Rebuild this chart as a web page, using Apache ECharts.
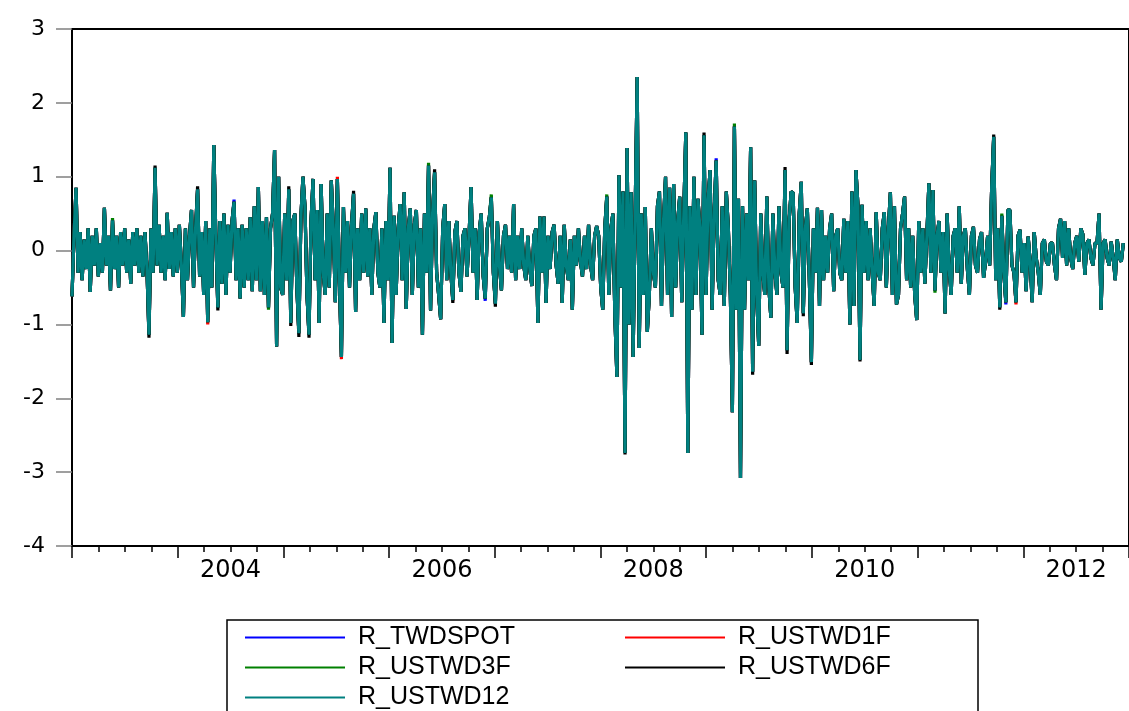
<!DOCTYPE html>
<html><head><meta charset="utf-8">
<script src="https://cdn.jsdelivr.net/npm/echarts@6/dist/echarts.min.js"></script>
<style>html,body{margin:0;padding:0;background:#fff}#c{width:1129px;height:711px}</style>
</head><body><div id="c"></div>
<script>
// Weekly returns (teal series R_USTWD12 is drawn on top of the others)
const v2003=[-0.62,0.2,0.85,-0.3,0.25,-0.4,0.15,-0.25,0.3,-0.56,0.2,-0.2,0.3,-0.35,0.1,-0.3,0.58,-0.2,0.2,-0.54,0.41,-0.25,0.2,-0.5,0.25,-0.2,0.3,-0.3,0.15,-0.45,0.25,-0.2,0.3,-0.3,0.2,-0.35,0.25,-0.25,-1.14,0.3,-0.3,1.12,-0.2,0.35,-0.3,0.2,-0.4,0.51,-0.25,0.25,-0.35,0.3];
const v2004=[-0.3,0.35,-0.2,-0.9,0.3,-0.4,0.2,0.55,-0.5,0.3,0.83,-0.35,0.25,-0.6,0.4,-0.97,0.3,-0.5,1.43,0.2,-0.77,0.4,-0.45,0.5,-0.6,0.35,-0.3,0.4,0.66,-0.4,0.3,-0.65,0.35,-0.5,0.3,-0.4,0.45,-0.55,0.6,-0.4,0.86,-0.55,0.4,-0.6,0.45,-0.77,0.3,0.5,1.36,-1.3,1.0,-0.5];
const v2005=[-0.6,0.5,-0.4,0.83,-0.98,0.4,0.5,-0.5,-1.12,0.45,1.0,0.6,-0.6,-1.14,0.4,0.97,-0.4,0.55,-0.98,0.9,-0.3,-0.6,0.5,-0.5,0.95,0.3,-0.7,0.97,-0.4,-1.44,0.59,-0.3,0.4,-0.5,0.35,0.77,-0.83,0.3,-0.4,0.5,-0.3,0.57,-0.35,0.3,-0.6,0.3,0.52,-0.3,-0.5,0.3,-0.98,0.4];
const v2006=[-0.4,1.12,-1.25,0.47,-0.6,0.3,0.63,-0.4,0.79,-0.79,0.3,0.57,-0.6,0.35,0.55,-0.5,0.3,-1.14,0.5,-0.3,1.15,-0.81,0.5,1.06,-0.3,-0.6,-0.93,0.3,0.63,-0.4,0.4,-0.3,-0.67,0.25,0.4,-0.3,-0.56,0.2,0.3,-0.35,0.2,0.86,-0.3,0.3,-0.67,0.25,0.5,-0.35,-0.65,0.3,0.45,0.72];
const v2007=[-0.3,-0.72,0.4,-0.2,-0.54,0.2,0.35,-0.25,0.2,-0.3,0.63,-0.4,0.2,-0.25,0.3,-0.2,-0.4,0.2,-0.25,-0.48,0.2,0.3,-0.98,0.46,-0.3,0.46,-0.71,0.2,-0.25,0.25,0.35,-0.2,-0.45,0.2,-0.71,0.35,-0.2,-0.4,0.15,-0.8,0.2,-0.2,0.3,-0.15,-0.35,0.2,-0.25,0.35,-0.2,-0.4,0.2,0.33];
const v2008=[0.2,-0.5,-0.8,0.3,0.73,-0.6,0.3,0.5,-0.9,-1.71,1.02,-0.5,0.8,-2.74,1.39,-1.0,0.79,-1.44,0.5,2.35,-1.32,0.5,-0.6,0.59,-1.1,-0.6,0.3,-0.3,-0.5,0.6,0.8,-0.75,0.4,1.0,-0.6,0.85,-0.9,0.9,-0.5,0.4,0.73,-0.7,0.5,1.6,-2.74,0.6,-0.8,1.0,-0.6,0.7,0.3,-1.14];
const v2009=[1.56,-0.6,0.7,1.09,-0.8,0.5,1.22,-0.4,-0.6,0.6,-0.75,0.8,0.3,-0.6,-2.19,1.68,-0.8,0.7,-3.08,0.6,-0.8,0.5,-0.4,1.4,-1.64,0.95,-0.6,-1.29,0.5,-0.3,-0.6,0.73,-0.5,-0.91,0.5,-0.3,-0.6,0.6,-0.3,-0.5,1.09,-1.35,0.4,0.8,0.78,-0.5,-0.98,0.5,0.93,-0.85,0.3,0.57];
const v2010=[-0.4,-1.51,0.3,-0.3,0.58,-0.75,0.55,-0.4,0.2,-0.3,0.3,0.5,-0.55,0.2,0.3,-0.3,-0.4,0.43,-0.3,0.4,-1.0,0.8,-0.75,1.09,0.6,-1.48,0.62,-0.3,0.4,-0.4,0.3,-0.3,-0.75,0.52,-0.3,-0.4,0.3,0.52,-0.5,0.3,0.79,-0.6,0.6,-0.73,-0.6,0.3,0.5,0.73,-0.4,0.3,-0.5,0.2];
const v2011=[-0.6,-0.94,0.4,-0.3,0.3,-0.45,0.2,0.91,-0.3,0.82,-0.54,0.2,0.4,-0.3,0.25,-0.85,0.5,-0.25,-0.6,0.2,0.3,-0.3,0.6,-0.45,0.2,0.3,-0.25,-0.6,0.2,0.32,-0.2,-0.3,0.15,0.25,-0.37,-0.15,0.2,-0.2,0.86,1.54,-0.4,0.3,-0.77,0.47,-0.3,-0.7,0.55,0.55,-0.2,-0.3,-0.7,0.2];
const v2012=[0.28,-0.3,0.1,-0.55,0.19,-0.15,-0.7,0.25,-0.1,-0.3,-0.6,0.1,0.15,-0.15,-0.2,0.1,0.1,-0.2,-0.4,0.3,0.43,-0.1,0.4,-0.2,0.3,-0.1,-0.25,0.1,0.2,-0.15,0.3,0.22,-0.33,0.1,0.15,-0.1,-0.2,0.1,0.1,0.5,-0.8,0.1,0.15,-0.1,-0.2,0.12,-0.1,-0.4,0.15,-0.1,-0.15,0.1];

// Series R_USTWD12 (teal)
const R_USTWD12=[].concat(v2003,v2004,v2005,v2006,v2007,v2008,v2009,v2010,v2011,v2012);
// The other four series coincide with it except where their tips show: [week index, value]
const R_USTWD6F_tips=[[38,-1.18],[41,1.15],[62,0.87],[72,-0.81],[107,0.87],[108,-1.02],[112,-1.17],[117,-1.18],[139,0.81],[179,1.1],[188,-0.71],[209,-0.76],[273,-2.76],[312,1.6],[336,-1.68],[352,1.13],[353,-1.4],[365,-1.55],[389,-1.5],[455,1.57],[458,-0.8],[361,-0.89]];
const R_USTWD3F_tips=[[176,1.19],[207,0.76],[327,1.72],[97,-0.8],[20,0.44],[264,0.76],[459,0.5],[426,-0.57]];
const R_USTWD1F_tips=[[133,-1.47],[131,1.0],[67,-1.0],[188,-0.68],[466,-0.73]];
const R_TWDSPOT_tips=[[318,1.25],[80,0.69],[204,-0.68],[461,-0.73]];

const seriesNames=['R_TWDSPOT','R_USTWD1F','R_USTWD3F','R_USTWD6F','R_USTWD12'];
const seriesColors=['#0000ff','#ff0000','#008000','#000000','#008080'];
const xLabelYears=[2004,2006,2008,2010,2012];

function withTips(base,tips){const a=base.slice();tips.forEach(function(t){a[t[0]]=t[1];});return a;}
const weekTime=R_USTWD12.map(function(_,i){return 2003+i*7/365.25;});
function pairs(vals){return vals.map(function(v,i){return [weekTime[i],v];});}

const seriesValues=[
  withTips(R_USTWD12,R_TWDSPOT_tips),
  withTips(R_USTWD12,R_USTWD1F_tips),
  withTips(R_USTWD12,R_USTWD3F_tips),
  withTips(R_USTWD12,R_USTWD6F_tips),
  R_USTWD12
];

const chart=echarts.init(document.getElementById('c'),null,{renderer:'canvas'});
chart.setOption({
  animation:false,
  backgroundColor:'#ffffff',
  grid:{left:72,top:29,right:-4,bottom:165,show:true,borderColor:'#000',borderWidth:2,backgroundColor:'transparent'},
  xAxis:{type:'value',min:2003,max:2013,interval:1,
    axisLine:{show:true,onZero:false,lineStyle:{color:'#000',width:2}},
    axisTick:{show:true,length:12,lineStyle:{color:'#000',width:1.5}},
    minorTick:{show:true,splitNumber:4,length:6,lineStyle:{color:'#000',width:1.5}},
    splitLine:{show:false},minorSplitLine:{show:false},
    axisLabel:{customValues:xLabelYears.map(function(y){return y+0.5;}),formatter:function(v){return String(Math.floor(v));},
      color:'#000',fontFamily:'DejaVu Sans',fontSize:24,margin:13}
  },
  yAxis:{type:'value',min:-4,max:3,interval:1,
    axisLine:{show:true,onZero:false,lineStyle:{color:'#000',width:2}},
    axisTick:{show:true,length:16,lineStyle:{color:'#808080',width:1.5}},
    splitLine:{show:false},
    axisLabel:{color:'#000',fontFamily:'DejaVu Sans',fontSize:22,margin:27}
  },
  legend:[
    {data:['R_TWDSPOT','R_USTWD3F','R_USTWD12'],orient:'vertical',left:227,top:620,height:130,
     padding:[5,15,10,18],itemGap:5,itemWidth:100,itemHeight:2,icon:'rect',selectedMode:false,
     borderColor:'#000',borderWidth:1.5,
     textStyle:{color:'#000',fontFamily:'Liberation Sans',fontSize:25,lineHeight:24,width:605,padding:[0,0,0,8]}},
    {data:['R_USTWD1F','R_USTWD6F'],orient:'vertical',left:625,top:620,height:130,
     padding:[5,0,10,0],itemGap:5,itemWidth:100,itemHeight:2,icon:'rect',selectedMode:false,
     textStyle:{color:'#000',fontFamily:'Liberation Sans',fontSize:25,lineHeight:24,padding:[0,0,0,8]}}
  ],
  series:seriesNames.map(function(n,k){return {
    name:n,type:'line',data:pairs(seriesValues[k]),showSymbol:false,symbol:'none',
    color:seriesColors[k],lineStyle:{color:seriesColors[k],width:3.2},z:2+k,silent:true
  };})
});
</script></body></html>
